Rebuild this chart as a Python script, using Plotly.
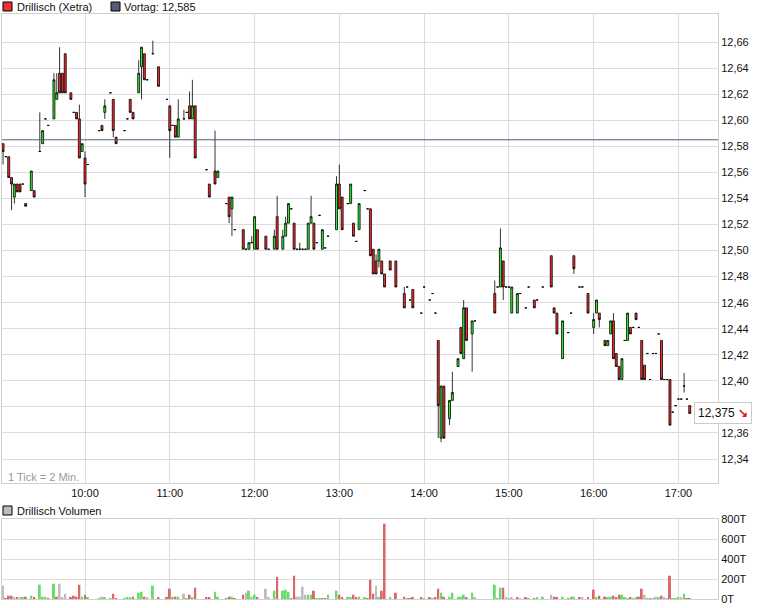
import plotly.graph_objects as go

# Drillisch (Xetra), 2-Minuten-Kerzen
DAY = "2013-03-15 "
VORTAG = 12.585

times = [
    "09:02","09:04","09:06","09:08","09:10","09:12","09:14","09:16","09:18","09:22","09:24","09:28","09:30","09:32","09:34","09:38","09:40","09:42","09:44","09:46","09:50","09:52","09:54","09:56","09:58",
    "10:00","10:02","10:10","10:12","10:14","10:18","10:20","10:22","10:28","10:30","10:32","10:34","10:38","10:40","10:42","10:44","10:48","10:52","10:58",
    "11:00","11:02","11:04","11:06","11:10","11:12","11:14","11:16","11:18","11:26","11:28","11:32","11:34","11:40","11:42","11:44","11:46","11:52","11:54","11:56","11:58",
    "12:00","12:02","12:08","12:10","12:14","12:16","12:20","12:22","12:24","12:26","12:28","12:30","12:32","12:34","12:36","12:38","12:40","12:42","12:44","12:46","12:48","12:50","12:52","12:58",
    "13:00","13:02","13:06","13:08","13:10","13:12","13:14","13:18","13:20","13:22","13:24","13:26","13:28","13:30","13:32","13:36","13:40","13:46","13:48","13:50","13:52","13:58",
    "14:00","14:04","14:06","14:08","14:10","14:12","14:14","14:18","14:20","14:24","14:26","14:28","14:30","14:34","14:36","14:50","14:52","14:54","14:56","14:58",
    "15:00","15:02","15:06","15:08","15:12","15:14","15:18","15:20","15:24","15:30","15:32","15:34","15:38","15:42","15:44","15:46","15:50","15:52","15:56",
    "16:00","16:02","16:04","16:08","16:10","16:12","16:14","16:16","16:18","16:20","16:22","16:24","16:26","16:28","16:30","16:32","16:34","16:36","16:38","16:40","16:42","16:44","16:46","16:48","16:50","16:52","16:54","16:56","16:58",
    "17:00","17:02","17:04","17:06","17:08",
]
opens = [
    12.582,12.572,12.572,12.556,12.541,12.551,12.551,12.551,12.536,12.546,12.546,12.576,12.582,12.601,12.596,12.601,12.616,12.636,12.636,12.651,12.621,12.606,12.606,12.601,12.576,
    12.571,12.566,12.592,12.596,12.606,12.621,12.616,12.587,12.592,12.601,12.616,12.606,12.621,12.641,12.651,12.631,12.651,12.641,12.616,
    12.611,12.596,12.596,12.587,12.601,12.606,12.611,12.601,12.611,12.562,12.551,12.561,12.556,12.536,12.541,12.532,12.516,12.516,12.501,12.501,12.506,
    12.501,12.516,12.511,12.501,12.501,12.526,12.501,12.511,12.521,12.532,12.521,12.501,12.501,12.501,12.501,12.501,12.521,12.521,12.506,12.527,12.501,12.502,12.511,12.516,
    12.551,12.541,12.536,12.536,12.521,12.507,12.516,12.546,12.532,12.532,12.501,12.492,12.492,12.492,12.482,12.492,12.492,12.467,12.472,12.462,12.470,12.452,
    12.472,12.462,12.467,12.452,12.431,12.356,12.396,12.371,12.385,12.411,12.441,12.417,12.456,12.436,12.446,12.467,12.472,12.472,12.492,12.472,
    12.472,12.452,12.452,12.467,12.456,12.472,12.462,12.462,12.472,12.496,12.456,12.452,12.417,12.437,12.452,12.496,12.472,12.472,12.467,
    12.441,12.452,12.452,12.431,12.427,12.436,12.446,12.421,12.411,12.401,12.431,12.431,12.441,12.441,12.452,12.441,12.431,12.412,12.421,12.401,12.421,12.421,12.436,12.431,12.401,12.401,12.401,12.376,12.381,
    12.386,12.386,12.396,12.386,12.381,
]
highs = [
    12.582,12.572,12.572,12.556,12.551,12.551,12.551,12.551,12.536,12.561,12.546,12.606,12.592,12.601,12.596,12.636,12.636,12.656,12.636,12.651,12.621,12.606,12.606,12.612,12.582,
    12.576,12.566,12.592,12.596,12.616,12.621,12.616,12.587,12.592,12.601,12.616,12.606,12.646,12.656,12.651,12.631,12.661,12.641,12.616,
    12.611,12.596,12.596,12.616,12.608,12.606,12.622,12.631,12.611,12.562,12.551,12.592,12.561,12.536,12.541,12.541,12.516,12.516,12.501,12.506,12.511,
    12.526,12.516,12.511,12.501,12.516,12.542,12.516,12.526,12.536,12.532,12.521,12.501,12.506,12.501,12.501,12.521,12.542,12.521,12.506,12.527,12.516,12.502,12.511,12.557,
    12.566,12.541,12.536,12.551,12.521,12.507,12.536,12.546,12.532,12.532,12.501,12.497,12.501,12.492,12.482,12.492,12.492,12.472,12.472,12.462,12.470,12.452,
    12.472,12.462,12.467,12.452,12.431,12.396,12.396,12.385,12.407,12.417,12.441,12.462,12.456,12.446,12.446,12.477,12.472,12.517,12.492,12.472,
    12.472,12.472,12.467,12.467,12.456,12.472,12.462,12.462,12.472,12.496,12.456,12.452,12.446,12.437,12.452,12.496,12.472,12.472,12.467,
    12.452,12.462,12.452,12.431,12.431,12.446,12.452,12.421,12.411,12.417,12.431,12.452,12.441,12.441,12.452,12.441,12.431,12.412,12.421,12.401,12.421,12.421,12.436,12.431,12.401,12.401,12.401,12.376,12.381,
    12.386,12.386,12.406,12.386,12.381,
]
lows = [
    12.566,12.572,12.556,12.531,12.536,12.545,12.545,12.551,12.534,12.546,12.541,12.576,12.582,12.601,12.596,12.601,12.616,12.621,12.621,12.621,12.616,12.606,12.601,12.571,12.576,
    12.541,12.566,12.592,12.592,12.601,12.621,12.587,12.582,12.592,12.601,12.606,12.601,12.621,12.616,12.631,12.631,12.651,12.626,12.616,
    12.571,12.596,12.587,12.587,12.601,12.606,12.601,12.601,12.571,12.562,12.541,12.551,12.556,12.536,12.521,12.511,12.516,12.501,12.501,12.501,12.506,
    12.501,12.501,12.501,12.501,12.501,12.501,12.501,12.511,12.521,12.532,12.501,12.501,12.501,12.501,12.501,12.501,12.521,12.501,12.506,12.527,12.501,12.502,12.511,12.516,
    12.532,12.516,12.536,12.536,12.511,12.507,12.516,12.546,12.532,12.496,12.482,12.482,12.487,12.482,12.472,12.485,12.472,12.456,12.472,12.462,12.456,12.452,
    12.472,12.462,12.467,12.452,12.356,12.353,12.356,12.366,12.385,12.411,12.421,12.417,12.431,12.407,12.446,12.452,12.472,12.472,12.462,12.472,
    12.472,12.452,12.452,12.467,12.456,12.472,12.456,12.462,12.472,12.472,12.452,12.436,12.417,12.437,12.452,12.482,12.472,12.472,12.452,
    12.436,12.452,12.441,12.427,12.427,12.436,12.417,12.411,12.401,12.401,12.431,12.431,12.436,12.441,12.447,12.441,12.401,12.401,12.421,12.401,12.421,12.421,12.436,12.401,12.401,12.401,12.366,12.376,12.381,
    12.386,12.386,12.391,12.386,12.375,
]
closes = [
    12.576,12.572,12.556,12.551,12.551,12.545,12.545,12.551,12.534,12.561,12.541,12.576,12.592,12.601,12.596,12.631,12.621,12.621,12.621,12.621,12.616,12.606,12.601,12.571,12.582,
    12.551,12.566,12.592,12.592,12.611,12.621,12.592,12.582,12.592,12.601,12.606,12.601,12.636,12.656,12.631,12.631,12.651,12.626,12.616,
    12.592,12.596,12.587,12.601,12.601,12.606,12.601,12.611,12.571,12.562,12.541,12.551,12.561,12.536,12.526,12.541,12.516,12.501,12.501,12.506,12.506,
    12.526,12.501,12.501,12.501,12.511,12.501,12.511,12.521,12.536,12.532,12.501,12.501,12.501,12.501,12.501,12.521,12.526,12.501,12.506,12.527,12.516,12.502,12.511,12.551,
    12.532,12.516,12.536,12.551,12.511,12.507,12.536,12.546,12.532,12.496,12.482,12.482,12.501,12.482,12.472,12.485,12.472,12.456,12.472,12.462,12.456,12.452,
    12.472,12.462,12.467,12.452,12.381,12.396,12.356,12.385,12.391,12.417,12.421,12.456,12.431,12.446,12.446,12.452,12.472,12.502,12.472,12.472,
    12.472,12.472,12.467,12.467,12.456,12.472,12.456,12.462,12.472,12.472,12.452,12.436,12.446,12.437,12.452,12.486,12.472,12.472,12.452,
    12.447,12.462,12.447,12.427,12.431,12.446,12.417,12.411,12.401,12.417,12.431,12.452,12.436,12.441,12.447,12.441,12.401,12.401,12.421,12.401,12.421,12.421,12.436,12.401,12.401,12.401,12.366,12.376,12.381,
    12.386,12.386,12.396,12.386,12.375,
]
# Volumen in Tausend Stueck
volumes = [
    133,10,33,33,20,13,13,13,23,33,13,143,23,23,5,153,23,153,13,53,13,33,23,143,23,
    43,13,5,23,13,5,53,5,5,13,13,23,63,73,23,13,133,13,13,
    103,23,23,23,53,5,43,13,113,13,13,73,23,5,23,23,5,43,63,83,23,
    43,13,103,13,83,223,83,93,73,5,233,23,23,123,43,43,43,83,5,5,5,5,43,83,
    43,13,13,13,43,13,23,13,5,193,53,133,13,83,753,13,63,23,5,5,13,13,
    5,13,5,13,103,63,23,23,63,13,23,43,13,63,13,143,5,113,113,13,
    5,13,13,5,13,5,5,13,23,43,23,13,23,5,23,23,13,13,13,
    93,13,33,23,13,23,33,13,43,43,13,5,13,5,13,23,103,43,5,5,5,23,13,33,13,5,233,5,5,
    13,13,53,5,5,
]
hours = ["10:00","11:00","12:00","13:00","14:00","15:00","16:00","17:00"]
price_ticks = [12.34, 12.36, 12.38, 12.40, 12.42, 12.44, 12.46, 12.48, 12.50,
               12.52, 12.54, 12.56, 12.58, 12.60, 12.62, 12.64, 12.66]
vol_ticks = [0, 200, 400, 600, 800]

# Seitenmasse in Pixel
W, H = 760, 608
ML, MR, MT, MB = 2, 42, 14, 9


def px_x(px):
    return (px - ML) / (W - ML - MR)


def px_y(py):
    return (H - MB - py) / (H - MT - MB)


x = [DAY + t for t in times]

# Farbe der Volumenbalken nach Veraenderung zum Vorkurs
vol_colors = []
prev = None
for c in closes:
    if prev is None or abs(c - prev) < 1e-9:
        vol_colors.append("#bdbdbd")
    elif c > prev:
        vol_colors.append("#66dd66")
    else:
        vol_colors.append("#dd6666")
    prev = c

GRID = "#dcdcdc"

fig = go.Figure()
fig.add_trace(go.Candlestick(
    x=x, open=opens, high=highs, low=lows, close=closes,
    increasing=dict(fillcolor="#2ef02e", line=dict(color="black", width=0.8)),
    decreasing=dict(fillcolor="#ff2a2a", line=dict(color="black", width=0.8)),
    xaxis="x", yaxis="y", showlegend=False,
))
fig.add_trace(go.Bar(
    x=x, y=volumes, marker=dict(color=vol_colors, line=dict(width=0)),
    xaxis="x2", yaxis="y2", showlegend=False,
))

axis_common = dict(showgrid=True, gridcolor=GRID, gridwidth=1, showline=True,
                   linecolor="#d0d0d0", linewidth=1, mirror=True, ticks="", zeroline=False)

fig.update_layout(
    width=W, height=H,
    margin=dict(l=ML, r=MR, t=MT, b=MB),
    paper_bgcolor="white", plot_bgcolor="white",
    font=dict(family="Liberation Sans, Arial, sans-serif", size=11, color="#111111"),
    separators=",.",
    bargap=0.3,
    boxgap=0.0,
    xaxis=dict(axis_common, domain=[0, 1], anchor="y", type="date",
               range=[DAY + "09:01:15", DAY + "17:28:00"],
               tickvals=[DAY + h for h in hours], ticktext=hours,
               rangeslider=dict(visible=False)),
    yaxis=dict(axis_common, domain=[(H - MB - 483) / (H - MT - MB), 1], anchor="x", side="right",
               range=[12.3216, 12.6815], tickvals=price_ticks, tickformat=".2f"),
    xaxis2=dict(axis_common, domain=[0, 1], anchor="y2", type="date", matches="x",
                tickvals=[DAY + h for h in hours], showticklabels=False),
    yaxis2=dict(axis_common, domain=[0, (H - MB - 519) / (H - MT - MB)], anchor="x2", side="right",
                range=[0, 800], tickvals=vol_ticks, ticktext=[f"{v}T" for v in vol_ticks]),
)

# Vortageslinie
fig.add_shape(type="line", xref="x domain", yref="y", x0=0, x1=1, y0=VORTAG, y1=VORTAG,
              line=dict(color="#565b7c", width=1), layer="above")

# Legenden-Kaestchen
for px0, py0, col in [(3, 2, "#ee3333"), (111, 2, "#565a72"), (3, 506, "#bdbdbd")]:
    fig.add_shape(type="rect", xref="paper", yref="paper",
                  x0=px_x(px0), x1=px_x(px0 + 9), y0=px_y(py0 + 9), y1=px_y(py0),
                  fillcolor=col, line=dict(color="black", width=1))

labels = [
    (15, 7, "Drillisch (Xetra)", "#111111"),
    (122, 7, "Vortag: " + f"{VORTAG:.3f}".replace(".", ","), "#111111"),
    (15, 511, "Drillisch Volumen", "#111111"),
    (6, 477, "1 Tick = 2 Min.", "#9a9a9a"),
]
for px0, py0, txt, col in labels:
    fig.add_annotation(xref="paper", yref="paper", x=px_x(px0), y=px_y(py0), text=txt,
                       showarrow=False, xanchor="left", yanchor="middle",
                       font=dict(size=11, color=col))

# Letzter Kurs
last = f"{closes[-1]:.3f}".replace(".", ",")
fig.add_annotation(xref="paper", yref="y", x=px_x(694), y=closes[-1],
                   text=last + " <span style='color:#e01818'><b>↘</b></span>",
                   showarrow=False, xanchor="left", yanchor="middle",
                   bgcolor="white", bordercolor="#cccccc", borderwidth=1, borderpad=3,
                   font=dict(size=12, color="#111111"))

fig.write_html("out.html", config={"displayModeBar": False},
               post_script="document.body.style.margin='0px';")
